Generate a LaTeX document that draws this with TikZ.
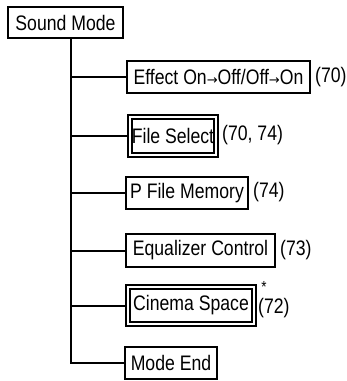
\documentclass[tikz,border=0pt]{standalone}
\usepackage{fontspec}
\setmainfont[FakeStretch=0.84]{Liberation Sans}
\newfontfamily\arrfont{DejaVu Sans}
\newcommand{\sarr}{\raisebox{0.5pt}{\arrfont\fontsize{13}{13}\selectfont →}}
\begin{document}
\begin{tikzpicture}[x=1pt,y=-1pt,
  every node/.style={font=\fontsize{21}{23}\selectfont, inner sep=0pt},
  box/.style={draw, line width=2pt, anchor=north west},
  dbox/.style={draw, line width=2pt, double, double distance=2pt, anchor=north west},
  lbl/.style={anchor=west},
  conn/.style={line width=2pt}]
\useasboundingbox (0,0) rectangle (347,381);
\node[box, minimum width=115pt, minimum height=31pt] (sound) at (7,6) {Sound Mode};
\node[box, minimum width=183pt, minimum height=32pt] (effect) at (126,60) {Effect On\sarr Off/Off\sarr On};
\node[dbox, minimum width=86pt, minimum height=38pt] (file) at (129,116) {File Select};
\node[box, minimum width=122pt, minimum height=32pt] (pfile) at (125,176) {P File Memory};
\node[box, minimum width=149pt, minimum height=33pt] (eq) at (125,233) {Equalizer Control};
\node[dbox, minimum width=126pt, minimum height=37pt] (cinema) at (127,286) {Cinema Space};
\node[box, minimum width=92pt, minimum height=32pt] (modeend) at (124,346) {Mode End};
\node[lbl] (l1) at (315,77) {(70)};
\node[lbl] (l2) at (222,135) {(70, 74)};
\node[lbl] (l3) at (253,192) {(74)};
\node[lbl] (l4) at (280,250) {(73)};
\node[anchor=center, font=\fontsize{16}{16}\selectfont] (star) at (264,287) {*};
\node[lbl] (l5) at (258,308) {(72)};
\coordinate (tb) at (71,362);
\draw[conn] (sound.south -| tb) -- (modeend.west -| tb) -- (modeend.west);
\foreach \n in {effect,file,pfile,eq,cinema}
  \draw[conn] (\n.west -| tb) -- (\n.west);
\end{tikzpicture}
\end{document}
